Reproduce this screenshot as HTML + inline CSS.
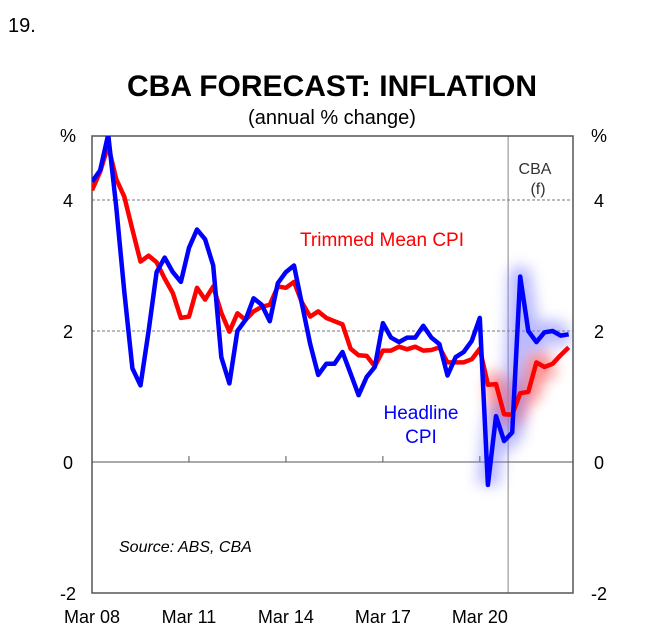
<!DOCTYPE html>
<html><head><meta charset="utf-8"><style>
body{margin:0;background:#fff;width:646px;height:639px;overflow:hidden}
svg{display:block;font-family:"Liberation Sans",Arial,sans-serif}
</style></head><body>
<svg width="646" height="639" viewBox="0 0 646 639">
<defs>
<filter id="glow" x="-50%" y="-50%" width="200%" height="200%"><feGaussianBlur stdDeviation="7"/></filter>
<clipPath id="pc"><rect x="92" y="136" width="481" height="457"/></clipPath>
</defs>
<text x="8" y="32" font-size="20">19.</text>
<text x="332" y="96" font-size="30" font-weight="bold" text-anchor="middle">CBA FORECAST: INFLATION</text>
<text x="332" y="124" font-size="20" text-anchor="middle">(annual % change)</text>
<g id="grid"></g>
<g id="axes"></g>
<g id="series" clip-path="url(#pc)"></g>
<text x="535" y="174" font-size="16" text-anchor="middle" fill="#333">CBA</text>
<text x="538" y="194" font-size="16" text-anchor="middle" fill="#333">(f)</text>
<text x="382" y="246" font-size="19" fill="#ff0000" text-anchor="middle">Trimmed Mean CPI</text>
<text x="421" y="419" font-size="19" fill="#0000ff" text-anchor="middle">Headline</text>
<text x="421" y="443" font-size="19" fill="#0000ff" text-anchor="middle">CPI</text>
<text x="119" y="552" font-size="16" font-style="italic">Source: ABS, CBA</text>
</svg>
<script>
const tickLabels=["Mar 08","Mar 11","Mar 14","Mar 17","Mar 20"];
const yTicks=[4,2,0,-2];
const headline=[4.28,4.45,5.0,3.9,2.6,1.43,1.17,2.0,2.9,3.12,2.9,2.75,3.27,3.55,3.4,3.0,1.6,1.2,2.0,2.17,2.5,2.4,2.15,2.73,2.9,3.0,2.4,1.8,1.33,1.5,1.5,1.68,1.35,1.02,1.3,1.45,2.12,1.9,1.83,1.9,1.9,2.08,1.9,1.8,1.32,1.6,1.68,1.85,2.2,-0.35,0.7,0.32,0.45,2.83,2.0,1.83,1.98,2.0,1.93,1.95];
const trimmed=[4.15,4.43,4.83,4.32,4.05,3.55,3.06,3.15,3.05,2.8,2.58,2.2,2.22,2.66,2.48,2.68,2.28,1.99,2.27,2.17,2.3,2.37,2.4,2.68,2.66,2.75,2.43,2.22,2.3,2.2,2.15,2.1,1.73,1.63,1.62,1.46,1.7,1.7,1.76,1.72,1.76,1.7,1.71,1.75,1.52,1.52,1.52,1.57,1.73,1.18,1.19,0.73,0.72,1.05,1.07,1.52,1.45,1.5,1.63,1.75];
const forecastStart=51.5;
const NS="http://www.w3.org/2000/svg";
const X=i=>92+i*8.08;
const Y=v=>462-65.5*v;
function mk(tag,attrs,parent){const e=document.createElementNS(NS,tag);for(const k in attrs)e.setAttribute(k,attrs[k]);document.getElementById(parent).appendChild(e);return e;}
yTicks.forEach(v=>{
  if(v===4||v===2){const g=mk('line',{x1:92,x2:573,y1:Y(v),y2:Y(v),stroke:'#777','stroke-dasharray':'3,2','stroke-width':1},'grid');
  
  }
  const l=mk('text',{x:68,y:Y(v)+7,'font-size':18,'text-anchor':'middle'},'axes');l.textContent=v;
  
  
  const r=mk('text',{x:599,y:Y(v)+7,'font-size':18,'text-anchor':'middle'},'axes');r.textContent=v;
  
  
});
[[68,'y-unit-left'],[599,'y-unit-right']].forEach(([x,n])=>{const t=mk('text',{x:x,y:142,'font-size':18,'text-anchor':'middle'},'axes');t.textContent='%';

});
const fl=mk('line',{x1:X(forecastStart),x2:X(forecastStart),y1:136,y2:593,stroke:'#888','stroke-width':1},'grid');


const fr=mk('rect',{x:92,y:136,width:481,height:457,fill:'none',stroke:'#555','stroke-width':1.5},'axes');


const zl=mk('line',{x1:92,x2:573,y1:Y(0),y2:Y(0),stroke:'#555','stroke-width':1},'axes');


tickLabels.forEach((t,k)=>{const x=X(k*12);
  if(k>0){const tk=mk('line',{x1:x,x2:x,y1:Y(0),y2:Y(0)-6,stroke:'#555'},'axes');
  
  }
  const tl=mk('text',{x:x,y:623,'font-size':18,'text-anchor':'middle'},'axes');tl.textContent=t;
  
  
});
function pts(arr,a,b){return arr.slice(a,b).map((v,j)=>X(a+j).toFixed(1)+','+Y(v).toFixed(1)).join(' ');}
const g1=mk('polyline',{points:pts(trimmed,49,58),fill:'none',stroke:'#ff6060','stroke-width':24,opacity:0.7,filter:'url(#glow)','stroke-linejoin':'round'},'series');


const g2=mk('polyline',{points:pts(headline,49,60),fill:'none',stroke:'#8080ff','stroke-width':22,opacity:0.55,filter:'url(#glow)','stroke-linejoin':'round'},'series');


const rl=mk('polyline',{points:pts(trimmed,0,60),fill:'none',stroke:'#ff0000','stroke-width':4.5,'stroke-linejoin':'round'},'series');


const bl=mk('polyline',{points:pts(headline,0,60),fill:'none',stroke:'#0000ff','stroke-width':4.5,'stroke-linejoin':'round'},'series');


</script>
</body></html>
